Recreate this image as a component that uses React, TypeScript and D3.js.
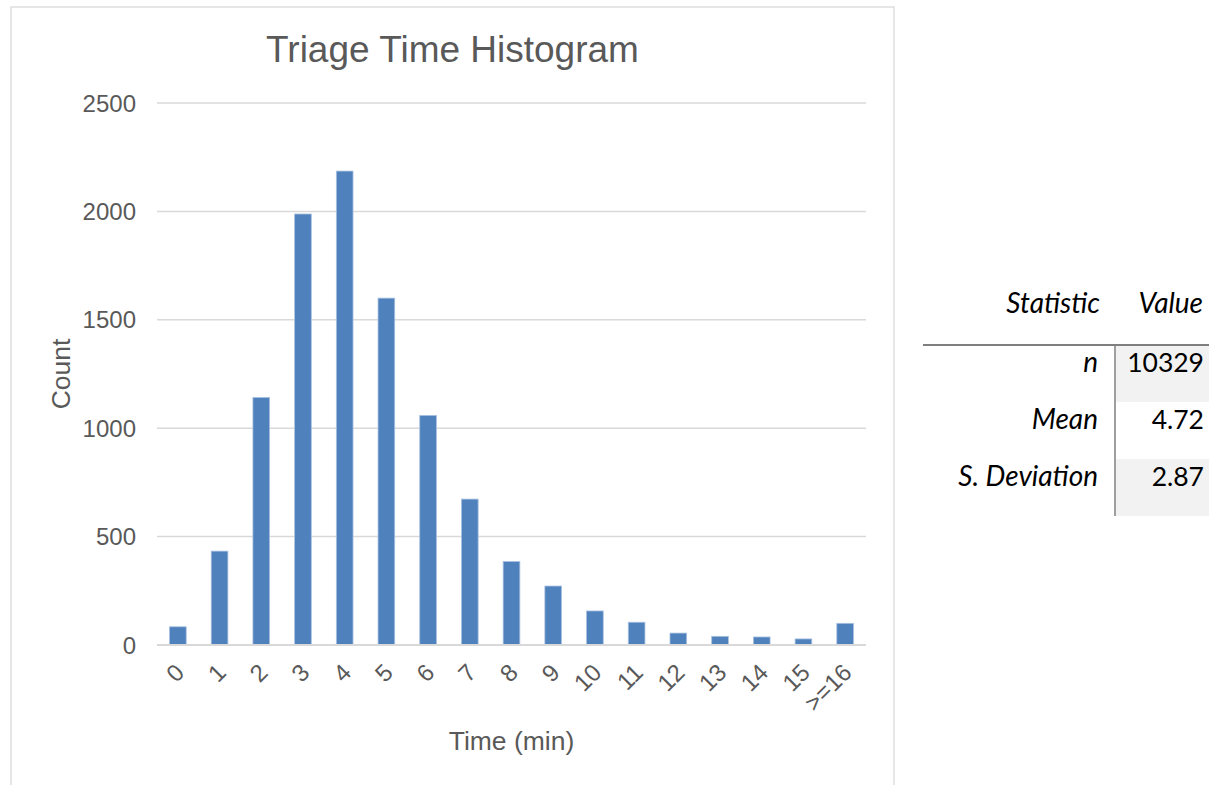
import React from "react";
import * as d3 from "d3";

const categories = ["0","1","2","3","4","5","6","7","8","9","10","11","12","13","14","15",">=16"];
const counts = [84, 433, 1142, 1988, 2186, 1600, 1059, 673, 385, 272, 157, 105, 55, 40, 37, 28, 100];
const yTicks = [0, 500, 1000, 1500, 2000, 2500];

const statLabels = ["n", "Mean", "S. Deviation"];
const statValues = ["10329", "4.72", "2.87"];

const W = 1209, H = 785;
const plot = { left: 157, right: 866, top: 103, bottom: 645 };
const txt = "#595959";
const sans = "'Liberation Sans', Arial, sans-serif";
const tableFont = "Lato, 'Open Sans', sans-serif";

export default function App() {
  const x = d3.scaleBand<string>().domain(categories).range([plot.left, plot.right]).paddingInner(0.6).paddingOuter(0.3);
  const y = d3.scaleLinear().domain([0, 2500]).range([plot.bottom, plot.top]);

  const rowTop = 345;
  const rowH = 57;
  const valX0 = 1116;

  return (
    <svg width={W} height={H} style={{ position: "absolute", left: 0, top: 0, background: "#fff" }}>
      <rect x={11} y={7} width={883} height={H} fill="#fff" stroke="#D9D9D9" strokeWidth={1.3} />
      <text x={452.5} y={62} textAnchor="middle" fontFamily={sans} fontSize={37} fill={txt}>Triage Time Histogram</text>
      {yTicks.map(t => (
        <g key={t}>
          {t > 0 && <line x1={plot.left} x2={plot.right} y1={y(t)} y2={y(t)} stroke="#D9D9D9" strokeWidth={1.5} />}
          <text x={136} y={y(t)} dy="0.36em" textAnchor="end" fontFamily={sans} fontSize={24} fill={txt}>{t}</text>
        </g>
      ))}
      {categories.map((c, i) => (
        <rect key={c} x={x(c)!} y={y(counts[i])} width={x.bandwidth()} height={y(0) - y(counts[i])}
          fill="#4F81BD" stroke="#A9C1E0" strokeWidth={0.8} />
      ))}
      <line x1={plot.left} x2={plot.right} y1={y(0)} y2={y(0)} stroke="#D9D9D9" strokeWidth={2} />
      {categories.map(c => {
        const cx = x(c)! + x.bandwidth() / 2 + 2;
        return (
          <text key={c} transform={`translate(${cx},668) rotate(-45)`} dy="0.35em" textAnchor="end"
            fontFamily={sans} fontSize={24} fill={txt}>{c}</text>
        );
      })}
      <text transform={`translate(70,${(plot.top + plot.bottom) / 2}) rotate(-90)`} textAnchor="middle"
        fontFamily={sans} fontSize={26.5} fill={txt}>Count</text>
      <text x={(plot.left + plot.right) / 2} y={750} textAnchor="middle" fontFamily={sans} fontSize={26.5} fill={txt}>Time (min)</text>

      {/* Statistics table */}
      <text x={1100} y={313} textAnchor="end" fontFamily={tableFont} fontStyle="italic" fontSize={28} fill="#000">Statistic</text>
      <text x={1203} y={313} textAnchor="end" fontFamily={tableFont} fontStyle="italic" fontSize={28} fill="#000">Value</text>
      {statLabels.map((l, i) => (
        <g key={l}>
          {i % 2 === 0 && <rect x={valX0} y={rowTop + i * rowH} width={W - valX0} height={rowH} fill="#F2F2F2" />}
          <text x={1098} y={rowTop + i * rowH + 27} textAnchor="end" fontFamily={tableFont} fontStyle="italic" fontSize={28} fill="#000">{l}</text>
          <text x={1204} y={rowTop + i * rowH + 27} textAnchor="end" fontFamily={tableFont} fontSize={26.5} fill="#000">{statValues[i]}</text>
        </g>
      ))}
      <line x1={923} x2={W} y1={rowTop} y2={rowTop} stroke="#7F7F7F" strokeWidth={2} />
      <line x1={1115} x2={1115} y1={rowTop} y2={rowTop + 3 * rowH} stroke="#7F7F7F" strokeWidth={1.5} />
    </svg>
  );
}
